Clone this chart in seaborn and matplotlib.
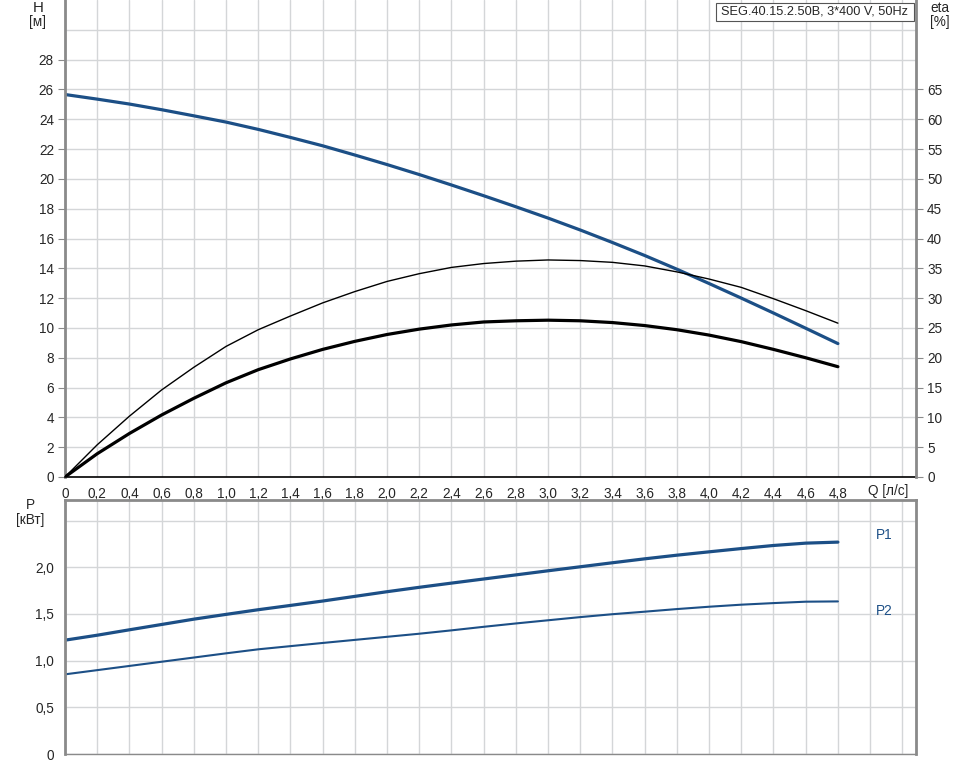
import numpy as np
import pandas as pd
import matplotlib
matplotlib.use("Agg")
import matplotlib.pyplot as plt
from matplotlib.patches import Rectangle
import seaborn as sns

# ---------------- data ----------------
q = [0.0, 0.2, 0.4, 0.6, 0.8, 1.0, 1.2, 1.4, 1.6, 1.8, 2.0, 2.2, 2.4,
     2.6, 2.8, 3.0, 3.2, 3.4, 3.6, 3.8, 4.0, 4.2, 4.4, 4.6, 4.8]
head_m = [25.66, 25.35, 25.02, 24.64, 24.23, 23.81, 23.32, 22.78, 22.22, 21.60,
          20.96, 20.29, 19.59, 18.87, 18.13, 17.37, 16.57, 15.73, 14.86, 13.94,
          12.98, 12.00, 11.00, 9.98, 8.95]
eta_thin = [0.0, 5.4, 10.2, 14.6, 18.4, 21.9, 24.7, 27.0, 29.2, 31.1,
            32.8, 34.1, 35.15, 35.8, 36.2, 36.4, 36.3, 36.0, 35.4, 34.4,
            33.2, 31.8, 29.9, 27.9, 25.8]
eta_thick = [0.0, 3.9, 7.3, 10.4, 13.2, 15.8, 18.0, 19.8, 21.4, 22.75,
             23.9, 24.8, 25.5, 26.0, 26.2, 26.3, 26.2, 25.9, 25.4, 24.7,
             23.8, 22.7, 21.4, 20.0, 18.5]
p1_kw = [1.219, 1.272, 1.330, 1.387, 1.444, 1.495, 1.545, 1.591, 1.638, 1.688,
         1.738, 1.785, 1.83, 1.874, 1.918, 1.962, 2.005, 2.048, 2.090, 2.129,
         2.165, 2.200, 2.233, 2.258, 2.269]
p2_kw = [0.853, 0.898, 0.943, 0.988, 1.033, 1.078, 1.121, 1.155, 1.189, 1.222,
         1.255, 1.288, 1.324, 1.362, 1.398, 1.432, 1.466, 1.497, 1.524, 1.552,
         1.577, 1.599, 1.616, 1.631, 1.634]

h_ticks = [0, 2, 4, 6, 8, 10, 12, 14, 16, 18, 20, 22, 24, 26, 28]
eta_ticks = [0, 5, 10, 15, 20, 25, 30, 35, 40, 45, 50, 55, 60, 65]
p_ticks = [0, 0.5, 1.0, 1.5, 2.0, 2.5]
p_labels = ["0", "0,5", "1,0", "1,5", "2,0", ""]
title_text = "SEG.40.15.2.50B, 3*400 V, 50Hz"

df = pd.DataFrame({"Q": q, "H": head_m, "eta_thin": eta_thin,
                   "eta_thick": eta_thick, "P1": p1_kw, "P2": p2_kw})

# ---------------- style ----------------
sns.set_style("white")
plt.rcParams["font.family"] = ["Liberation Sans", "DejaVu Sans"]
FS = 9.8
BLUE = "#1c4f86"
GRID = "#d4d6d8"
SPINE = "#8a8a8a"

fig = plt.figure(figsize=(9.68, 7.64), dpi=100)
W, Hh = 968, 764
x0, x1 = 65, 916
ax = fig.add_axes([x0 / W, 1 - 477 / Hh, (x1 - x0) / W, 477 / Hh])
axp = fig.add_axes([x0 / W, 1 - 754 / Hh, (x1 - x0) / W, (754 - 500) / Hh])
ax2 = ax.twinx()

XMAX = 5.285
grid_x = np.round(np.arange(0, 5.3, 0.2), 1)

def xlab(t):
    if t == 0:
        return "0"
    if t > 4.81:
        return ""
    return f"{t:.1f}".replace(".", ",")

# ---------------- top panel ----------------
ax.set_xlim(0, XMAX)
ax.set_ylim(0, 32)
ax2.set_ylim(0, 80)
ax.set_xticks(grid_x)
ax.set_xticklabels([xlab(t) for t in grid_x])
ax.set_yticks(h_ticks)
ax.set_yticklabels([str(t) for t in h_ticks])
ax.set_yticks([30], minor=True)
ax2.set_yticks(eta_ticks)
ax2.set_yticklabels([str(t) for t in eta_ticks])
ax.grid(True, which="both", color=GRID, lw=1.0)
ax.set_axisbelow(True)

sns.lineplot(data=df, x="Q", y="H", ax=ax, color=BLUE, lw=2.3)
sns.lineplot(data=df, x="Q", y="eta_thin", ax=ax2, color="black", lw=1.0)
sns.lineplot(data=df, x="Q", y="eta_thick", ax=ax2, color="black", lw=2.3)
for a in (ax, ax2):
    a.set_xlabel("")
    a.set_ylabel("")

ax.tick_params(axis="y", which="major", direction="out", length=5, color=SPINE, labelsize=FS, pad=3)
ax.tick_params(axis="y", which="minor", length=0)
ax.tick_params(axis="x", direction="out", length=4, color="black", labelsize=FS, pad=3)
ax2.tick_params(axis="y", direction="out", length=5, color=SPINE, labelsize=FS, pad=3)
ax.spines["top"].set_visible(False)
ax2.spines["top"].set_visible(False)
ax.spines["left"].set_color(SPINE)
ax.spines["left"].set_linewidth(2)
ax2.spines["right"].set_color(SPINE)
ax2.spines["right"].set_linewidth(2)
ax2.spines["left"].set_visible(False)
ax.spines["right"].set_visible(False)
ax.spines["bottom"].set_color("black")
ax.spines["bottom"].set_linewidth(1.2)
ax2.spines["bottom"].set_visible(False)

fig.text(888 / W, 1 - 491 / Hh, "Q [л/с]", ha="center", va="center", fontsize=FS)

# title box
fig.patches.append(Rectangle((716 / W, 1 - 20.5 / Hh), (914 - 716) / W, 17.5 / Hh,
                             transform=fig.transFigure, fc="white", ec="#555555",
                             lw=0.8, zorder=9))
fig.text(721 / W, 1 - 12 / Hh, title_text, ha="left", va="center", fontsize=9.2, zorder=10)

fig.text(38 / W, 1 - 8 / Hh, "H", ha="center", va="center", fontsize=FS + 1)
fig.text(38 / W, 1 - 22 / Hh, "[м]", ha="center", va="center", fontsize=FS)
fig.text(940 / W, 1 - 8 / Hh, "eta", ha="center", va="center", fontsize=FS)
fig.text(940 / W, 1 - 22 / Hh, "[%]", ha="center", va="center", fontsize=FS)

# ---------------- bottom panel ----------------
axp.set_xlim(0, XMAX)
axp.set_ylim(0, 2.72)
axp.set_xticks(grid_x)
axp.set_xticklabels([])
axp.set_yticks(p_ticks)
axp.set_yticklabels(p_labels)
axp.grid(True, color=GRID, lw=1.0)
axp.set_axisbelow(True)
sns.lineplot(data=df, x="Q", y="P1", ax=axp, color=BLUE, lw=2.3)
sns.lineplot(data=df, x="Q", y="P2", ax=axp, color=BLUE, lw=1.5)
axp.set_xlabel("")
axp.set_ylabel("")
axp.tick_params(axis="y", direction="out", length=5, color=SPINE, labelsize=FS, pad=3)
axp.tick_params(axis="x", length=0)
for sp in ("left", "right", "top", "bottom"):
    axp.spines[sp].set_color(SPINE)
    axp.spines[sp].set_linewidth(2 if sp in ("left", "right", "top") else 1.0)

axp.text(5.09, 2.34, "P1", ha="center", va="center", fontsize=FS, color=BLUE)
axp.text(5.09, 1.53, "P2", ha="center", va="center", fontsize=FS, color=BLUE)
fig.text(30 / W, 1 - 505 / Hh, "P", ha="center", va="center", fontsize=FS)
fig.text(30 / W, 1 - 520 / Hh, "[кВт]", ha="center", va="center", fontsize=FS)

fig.savefig("out.png", dpi=100)
